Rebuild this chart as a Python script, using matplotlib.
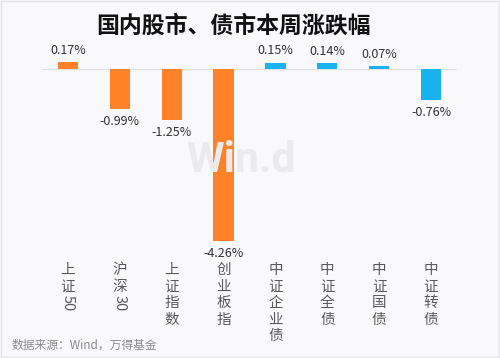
import matplotlib.pyplot as plt
from matplotlib.patches import Rectangle
import re

plt.rcParams['font.family'] = ['Noto Sans CJK SC', 'DejaVu Sans']

# 本周涨跌幅 (%)
categories = ['上证50', '沪深30', '上证指数', '创业板指', '中证企业债', '中证全债', '中证国债', '中证转债']
changes = [0.17, -0.99, -1.25, -4.26, 0.15, 0.14, 0.07, -0.76]
bar_colors = ['#FF8128'] * 4 + ['#18B2EE'] * 4

fig = plt.figure(figsize=(5.0, 3.58), dpi=100)
fig.patch.set_facecolor('#F9F9FC')
fig.patches.append(Rectangle((0.002, 0.002), 0.996, 0.996, transform=fig.transFigure,
                             fill=False, edgecolor='#E4E4E8', lw=1))
ax = fig.add_axes([42 / 500, 1 - 250 / 358, 415 / 500, 200 / 358])
ax.set_facecolor('#F9F9FC')

x = list(range(len(categories)))
ax.bar(x, changes, width=0.39, color=bar_colors, zorder=3)
ax.axhline(0, color='#E2E2E6', lw=0.8, zorder=2)
ax.set_xlim(-0.5, len(categories) - 0.5)
ax.set_ylim(-181 / 40.4, 19 / 40.4)
ax.axis('off')

# 数值标签
for xi, v in zip(x, changes):
    if v >= 0:
        ax.annotate(f'{v:.2f}%', (xi, v), xytext=(0, 4), textcoords='offset points',
                    ha='center', va='bottom', fontsize=9, color='#333333')
    else:
        ax.annotate(f'{v:.2f}%', (xi, v), xytext=(0, -4.5), textcoords='offset points',
                    ha='center', va='top', fontsize=9, color='#333333')

# 竖排分类标签
step = 11.9
for xi, name in zip(x, categories):
    tokens = re.findall(r'\d+|.', name)
    for k, tok in enumerate(tokens):
        rot = -90 if tok.isdigit() else 0
        ax.annotate(tok, (xi, 0), xycoords=('data', 'axes fraction'),
                    xytext=(0, -14.5 - k * step), textcoords='offset points',
                    ha='center', va='center', rotation=rot,
                    fontsize=10.5, color='#5A5A5A')

# 水印
fig.text(241 / 500, 1 - 160 / 358, 'Win.d', fontsize=31, fontweight='bold',
         color='#EBEBEF', ha='center', va='center', family='Roboto', zorder=0)

fig.text(233 / 500, 1 - 26 / 358, '国内股市、债市本周涨跌幅', fontsize=16.5,
         fontweight='bold', ha='center', va='center', color='#111111')
fig.text(12 / 500, 1 - 345 / 358, '数据来源：Wind，万得基金', fontsize=8.5,
         ha='left', va='center', color='#8C8C8C')

fig.savefig('out.png', dpi=100, facecolor=fig.get_facecolor())
